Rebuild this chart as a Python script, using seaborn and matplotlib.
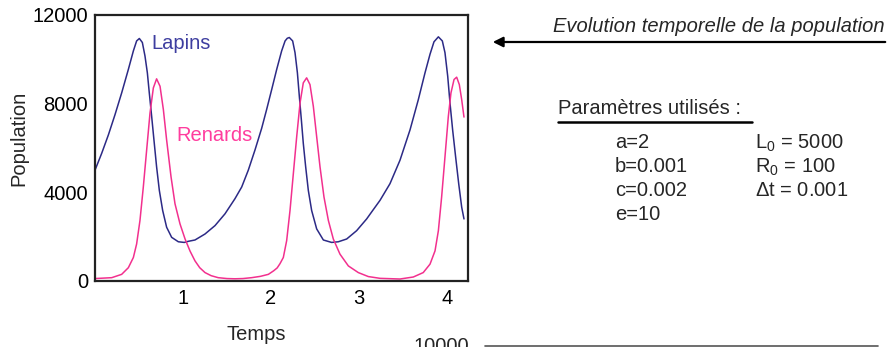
import matplotlib
matplotlib.use("Agg")
import matplotlib.pyplot as plt
import seaborn as sns
import pandas as pd

# ---- data ----
t_lapins = [0.0, 0.076, 0.152, 0.227, 0.303, 0.379, 0.436, 0.473, 0.504, 0.538, 0.568,
            0.595, 0.617, 0.644, 0.67, 0.70, 0.731, 0.769, 0.814, 0.871, 0.947, 1.015,
            1.06, 1.136, 1.25, 1.364, 1.477, 1.59, 1.667, 1.742, 1.818, 1.894, 1.95,
            2.008, 2.065, 2.121, 2.16, 2.185, 2.208, 2.246, 2.273, 2.3, 2.322, 2.345,
            2.367, 2.394, 2.424, 2.462, 2.519, 2.595, 2.689, 2.765, 2.86, 2.973, 3.087,
            3.15, 3.239, 3.352, 3.466, 3.58, 3.674, 3.75, 3.807, 3.852, 3.902, 3.947,
            3.977, 4.008, 4.034, 4.064, 4.098, 4.133, 4.167, 4.193]
v_lapins = [5000, 5760, 6590, 7500, 8485, 9545, 10380, 10830, 10940, 10760, 10150,
            9390, 8485, 7420, 6360, 5150, 4090, 3180, 2425, 1970, 1770, 1740,
            1790, 1850, 2120, 2500, 3030, 3710, 4240, 5000, 5910, 6890, 7730,
            8640, 9550, 10380, 10830, 10950, 10985, 10830, 10300, 9390, 8330, 7270,
            6210, 5150, 4090, 3180, 2350, 1850, 1740, 1770, 1895, 2270, 2800,
            3150, 3640, 4390, 5450, 6820, 8180, 9390, 10230, 10790, 11015, 10830,
            10300, 9240, 8030, 6820, 5600, 4390, 3330, 2800]

t_renards = [0.0, 0.19, 0.303, 0.379, 0.436, 0.473, 0.511, 0.549, 0.587, 0.625, 0.663,
             0.70, 0.739, 0.777, 0.814, 0.864, 0.909, 0.966, 1.023, 1.08, 1.136, 1.19,
             1.25, 1.32, 1.4, 1.5, 1.59, 1.68, 1.78, 1.88, 1.97, 2.03, 2.07, 2.102,
             2.14, 2.178, 2.216, 2.254, 2.292, 2.33, 2.367, 2.405, 2.443, 2.481, 2.519,
             2.557, 2.602, 2.652, 2.708, 2.784, 2.879, 2.992, 3.106, 3.239, 3.466,
             3.617, 3.73, 3.807, 3.864, 3.902, 3.939, 3.977, 4.015, 4.045, 4.08, 4.11,
             4.14, 4.167, 4.193]
v_renards = [110, 150, 300, 600, 1060, 1670, 2730, 4240, 5910, 7575, 8710,
             9120, 8785, 7730, 6360, 4700, 3485, 2575, 1900, 1350, 910, 600,
             380, 240, 150, 110, 100, 110, 150, 210, 300, 460, 590, 780,
             1060, 1820, 3180, 4850, 6510, 8030, 8940, 9165, 8860, 7880, 6510,
             5150, 3790, 2730, 1895, 1210, 680, 380, 200, 120, 90,
             180, 380, 760, 1360, 2270, 3790, 5600, 7420, 8485, 9090, 9195,
             8860, 8180, 7395]

y_ticks = [0, 4000, 8000, 12000]
x_ticks = [1, 2, 3, 4]

params_left = ["a=2", "b=0.001", "c=0.002", "e=10"]
params_right = [r"L$_0$ = 5000", r"R$_0$ = 100", r"$\Delta$t = 0.001"]

# ---- style ----
sns.set_style("white")
plt.rcParams["font.family"] = ["Liberation Sans", "DejaVu Sans"]
plt.rcParams["mathtext.fontset"] = "custom"
plt.rcParams["mathtext.rm"] = "Liberation Sans"
plt.rcParams["mathtext.it"] = "Liberation Sans:italic"

blue_line = "#2c2a86"
blue_text = "#3e3ea0"
pink_line = "#f2308e"
pink_text = "#ff3d9e"
FS = 14.5

W, H = 888, 347
fig = plt.figure(figsize=(W / 100, H / 100), dpi=100)
ax = fig.add_axes([95 / W, 1 - 281 / H, (468 - 95) / W, (281 - 15) / H])

df_l = pd.DataFrame({"t": t_lapins, "v": v_lapins})
df_r = pd.DataFrame({"t": t_renards, "v": v_renards})
sns.lineplot(data=df_l, x="t", y="v", ax=ax, color=blue_line, linewidth=1.1,
             sort=False, estimator=None)
sns.lineplot(data=df_r, x="t", y="v", ax=ax, color=pink_line, linewidth=1.1,
             sort=False, estimator=None)

ax.set_xlim(0, (468 - 95) / 88)
ax.set_ylim(0, 12000)
ax.set_xticks(x_ticks)
ax.set_yticks(y_ticks)
ax.set_xticklabels([str(v) for v in x_ticks])
ax.set_yticklabels([str(v) for v in y_ticks])
ax.tick_params(axis="both", direction="in", length=9, width=1.5, color="black",
               labelsize=FS, labelcolor="black")
ax.tick_params(axis="x", pad=6)
ax.tick_params(axis="y", pad=5)
for s in ax.spines.values():
    s.set_color("#222222")
    s.set_linewidth(1.6)
    s.set_visible(True)

ax.set_xlabel("")
ax.set_ylabel("")
fig.text(256 / W, 1 - 335 / H, "Temps", fontsize=FS, ha="center", va="center")
fig.text(19 / W, 1 - 138 / H, "Population", fontsize=FS, ha="center", va="center",
         rotation=90)

ax.text(0.645, 10700, "Lapins", color=blue_text, fontsize=FS, ha="left", va="center")
ax.text(0.92, 6550, "Renards", color=pink_text, fontsize=FS, ha="left", va="center")

# right side annotations
fig.text(885 / W, 1 - 27 / H, "Evolution temporelle de la population", fontsize=FS,
         style="italic", ha="right", va="center")
fig.add_artist(matplotlib.patches.FancyArrowPatch(
    (888 / W, 1 - 42 / H), (490 / W, 1 - 42 / H), transform=fig.transFigure,
    arrowstyle="-|>,head_length=6,head_width=3", mutation_scale=1, color="black",
    linewidth=1.6))

fig.text(558 / W, 1 - 108 / H, "Paramètres utilisés :", fontsize=FS, ha="left",
         va="center")
fig.add_artist(matplotlib.lines.Line2D([558 / W, 752 / W], [1 - 122 / H, 1 - 122 / H],
                                       transform=fig.transFigure, color="black",
                                       linewidth=1.8))
ys = [143, 167, 191, 215]
for i, s in enumerate(params_left):
    fig.text(615 / W, 1 - ys[i] / H, s, fontsize=FS, ha="left", va="center")
for i, s in enumerate(params_right):
    fig.text(755 / W, 1 - ys[i] / H, s, fontsize=FS, ha="left", va="center")

# partially visible next chart at the bottom (cut off in the reference too)
fig.text(413 / W, 1 - 337 / H, "10000", fontsize=FS, ha="left", va="top")
fig.add_artist(matplotlib.lines.Line2D([485 / W, 878 / W], [1 - 345.5 / H, 1 - 345.5 / H],
                                       transform=fig.transFigure, color="#555555",
                                       linewidth=1.2))

fig.savefig("out.png", dpi=100)
